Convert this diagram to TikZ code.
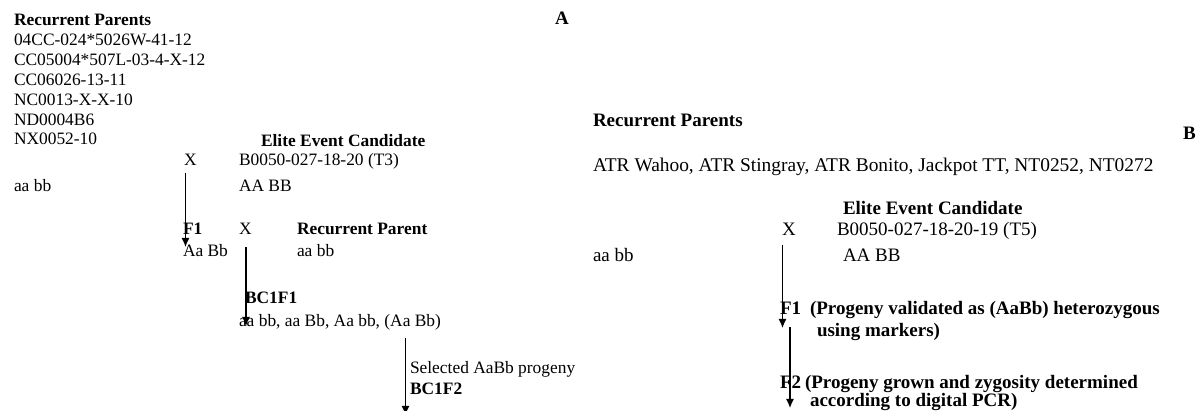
\documentclass[tikz,border=0pt]{standalone}
\usepackage{fontspec}
\setmainfont{Liberation Serif}
\usetikzlibrary{arrows.meta}
\tikzset{
  lt/.style={anchor=base west, inner sep=0pt, outer sep=0pt, font=\fontsize{17.4}{20}\selectfont},
  lb/.style={lt, font=\fontsize{17.4}{20}\selectfont\bfseries},
  rt/.style={anchor=base west, inner sep=0pt, outer sep=0pt, font=\fontsize{19}{22}\selectfont},
  rb/.style={rt, font=\fontsize{19}{22}\selectfont\bfseries},
  arr/.style={line width=1.3pt, -{Latex[length=9pt,width=8pt]}}
}
\begin{document}
\begin{tikzpicture}[x=1pt,y=-1pt]
\useasboundingbox (0,0) rectangle (1203,411);
% Panel A
\node[lb] (rpA) at (14,26) {Recurrent Parents};
\node[lt] (p1) at (14,46) {04CC-024*5026W-41-12};
\node[lt] (p2) at (14,65.5) {CC05004*507L-03-4-X-12};
\node[lt] (p3) at (14,85.5) {CC06026-13-11};
\node[lt] (p4) at (14,105.5) {NC0013-X-X-10};
\node[lt] (p5) at (14,125.5) {ND0004B6};
\node[lt] (p6) at (14,145) {NX0052-10};
\node[rb] (labA) at (555,25) {A};
\node[lb] (eecA) at (261,147) {Elite Event Candidate};
\node[lt] (xA1) at (184,166) {X};
\node[lt] (b3) at (239,166) {B0050-027-18-20 (T3)};
\node[lt] (aabbA) at (14,192) {aa bb};
\node[lt] (AABBA) at (239,192) {AA BB};
\node[lb] (f1A) at (183,235) {F1};
\node[lt] (xA2) at (239,235) {X};
\node[lb] (rpA2) at (297,235) {Recurrent Parent};
\node[lt] (AaBbA) at (183,257) {Aa Bb};
\node[lt] (aabbA2) at (297,257) {aa bb};
\node[lb] (bc1f1) at (245,304) {BC1F1};
\node[lt] (list) at (239,327) {aa bb, aa Bb, Aa bb, (Aa Bb)};
\node[lt] (sel) at (410,374) {Selected AaBb progeny};
\node[lb] (bc1f2) at (410,395) {BC1F2};
\coordinate (a1s) at (185.5,173);
\coordinate (a1e) at (185.5,247);
\coordinate (a2s) at (246,247);
\coordinate (a2e) at (246,326);
\coordinate (a3s) at (405.5,338);
\coordinate (a3e) at (405.5,415);
\draw[arr] (a1s) -- (a1e);
\draw[arr] (a2s) -- (a2e);
\draw[arr] (a3s) -- (a3e);
% Panel B
\node[rb] (rpB) at (593,127) {Recurrent Parents};
\node[rb] (labB) at (1183,140) {B};
\node[rt, font=\fontsize{19.4}{22}\selectfont] (atr) at (593,172) {ATR Wahoo, ATR Stingray, ATR Bonito, Jackpot TT, NT0252, NT0272};
\node[rb] (eecB) at (843,215) {Elite Event Candidate};
\node[rt] (xB) at (782,236) {X};
\node[rt] (b5) at (837,236) {B0050-027-18-20-19 (T5)};
\node[rt] (aabbB) at (593,262) {aa bb};
\node[rt] (AABBB) at (843,262) {AA BB};
\node[rb] (f1B) at (780,315) {F1};
\node[rb] (f1t) at (810,315) {(Progeny validated as (AaBb) heterozygous};
\node[rb] (f1t2) at (817,337) {using markers)};
\node[rb] (f2B) at (780,389) {F2};
\node[rb] (f2t) at (805,389) {(Progeny grown and zygosity determined};
\node[rb] (f2t2) at (810,406.5) {according to digital PCR)};
\coordinate (a4s) at (782.5,245);
\coordinate (a4e) at (782.5,328);
\coordinate (a5s) at (790,327);
\coordinate (a5e) at (790,408);
\draw[arr] (a4s) -- (a4e);
\draw[arr] (a5s) -- (a5e);
\end{tikzpicture}
\end{document}
